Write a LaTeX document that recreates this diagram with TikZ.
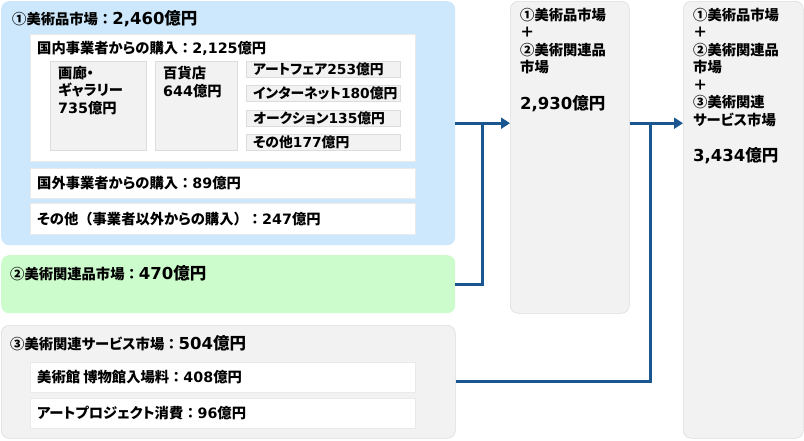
\documentclass[tikz,border=0pt]{standalone}
\usepackage{fontspec}
\setmainfont{Noto Sans CJK JP}[RawFeature=+palt]
\newfontfamily\vd{DejaVu Sans}
\usetikzlibrary{arrows.meta}
\definecolor{cA}{HTML}{CDE8FC}
\definecolor{cB}{HTML}{CCFCCC}
\definecolor{cG}{HTML}{F2F2F2}
\definecolor{cL}{HTML}{DCDCDC}
\definecolor{cN}{HTML}{1A5690}
\newcommand\dg[1]{{\vd #1}}
\newcommand\fw[1]{{\addfontfeatures{RawFeature=-palt}#1}}
\newcommand\bigsz{\fontsize{16.5}{20}\selectfont}

\begin{document}
\begin{tikzpicture}[x=1pt,y=-1pt,
  font=\fontsize{14.3}{17.5}\selectfont\bfseries,
  pn/.style={rounded corners=8pt,anchor=north west,inner sep=0pt},
  bl/.style={pn,fill=cA},
  gn/.style={pn,fill=cB},
  gy/.style={pn,fill=cG,draw=cL,line width=.6pt},
  wb/.style={anchor=north west,inner sep=0pt,fill=white,draw=cL!60,line width=.6pt},
  sb/.style={anchor=north west,inner sep=0pt,fill=cG,draw=cL,line width=.6pt},
  tx/.style={anchor=west,inner sep=0pt},
  sx/.style={tx,font=\fontsize{13.8}{16}\selectfont\bfseries},
  ml/.style={anchor=north west,inner sep=0pt,align=left},
  ln/.style={cN,line width=3pt},
  ar/.style={ln,-{Triangle[length=9pt,width=11pt]}}]
\useasboundingbox (0,0) rectangle (804,440);
% left column: the three markets
\node[bl,minimum width=454,minimum height=244] (m1) at (1,1) {};
\node[wb,minimum width=385,minimum height=127] (d1) at (30,34) {};
\node[sb,minimum width=96,minimum height=89] (g1) at (50,61) {};
\node[sb,minimum width=82,minimum height=89] (g2) at (155,61) {};
\node[sb,minimum width=154,minimum height=16] (s1) at (246,61) {};
\node[sb,minimum width=154,minimum height=16] (s2) at (246,85) {};
\node[sb,minimum width=154,minimum height=16] (s3) at (246,110) {};
\node[sb,minimum width=154,minimum height=16] (s4) at (246,134) {};
\node[wb,minimum width=385,minimum height=30] (d2) at (30,168) {};
\node[wb,minimum width=385,minimum height=31] (d3) at (30,203) {};
\node[gn,minimum width=454,minimum height=58] (m2) at (1,255) {};
\node[gy,minimum width=454,minimum height=113] (m3) at (1,325) {};
\node[wb,minimum width=385,minimum height=30] (d4) at (30,362) {};
\node[wb,minimum width=385,minimum height=30] (d5) at (30,398) {};

\node[tx] (m1t) at (12,19) {①美術品市場\fw{：}{\bigsz\dg{2,460}億円}};
\node[tx] (d1t) at (37,48) {国内事業者からの購入\fw{：}\dg{2,125}億円};
\node[ml] (g1t) at (58,66) {画廊・\\ギャラリー\\\dg{735}億円};
\node[ml] (g2t) at (163,66) {百貨店\\\dg{644}億円};
\node[sx] (s1t) at (253,69) {アートフェア\dg{253}億円};
\node[sx] (s2t) at (253,93) {インターネット\dg{180}億円};
\node[sx] (s3t) at (253,118) {オークション\dg{135}億円};
\node[sx] (s4t) at (253,142) {その他\dg{177}億円};
\node[tx] (d2t) at (37,183) {国外事業者からの購入\fw{：}\dg{89}億円};
\node[tx] (d3t) at (37,219) {その他\fw{（}事業者以外からの購入\fw{）：}\dg{247}億円};
\node[tx] (m2t) at (10,273) {②美術関連品市場\fw{：}{\bigsz\dg{470}億円}};
\node[tx] (m3t) at (10,343) {③美術関連サービス市場\fw{：}{\bigsz\dg{504}億円}};
\node[tx] (d4t) at (37,377) {美術館 博物館入場料\fw{：}\dg{408}億円};
\node[tx] (d5t) at (37,413) {アートプロジェクト消費\fw{：}\dg{96}億円};

% right columns: the running totals
\node[gy,minimum width=119,minimum height=312] (t1) at (510,1) {};
\node[gy,minimum width=120,minimum height=437] (t2) at (683,1) {};
\node[ml] (t1t) at (520,8) {①美術品市場\\＋\\②美術関連品\\市場};
\node[tx] (t1s) at (520,104) {\bigsz\dg{2,930}億円};
\node[ml] (t2t) at (693,8) {①美術品市場\\＋\\②美術関連品\\市場\\＋\\③美術関連\\サービス市場};
\node[tx] (t2s) at (693,156) {\bigsz\dg{3,434}億円};

\coordinate (j1) at (482,123);
\coordinate (j2) at (650,123);
\draw[ar] (m1.east) -- (m1.east -| t1.west);
\draw[ln] (m2.east) -| (j1);
\draw[ar] (t1.east |- m1.east) -- (t2.west |- m1.east);
\draw[ln] (m3.east) -| (j2);
\end{tikzpicture}
\end{document}
